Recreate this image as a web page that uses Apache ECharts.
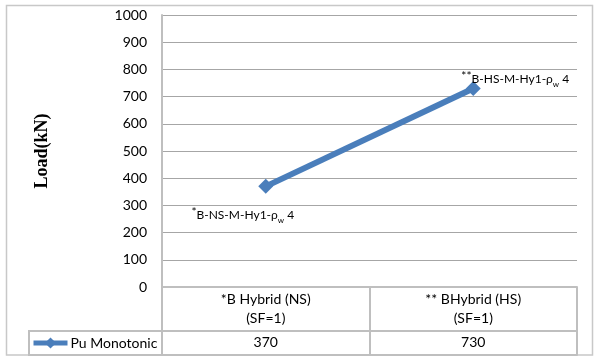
<!DOCTYPE html>
<html>
<head>
<meta charset="utf-8">
<script src="https://cdn.jsdelivr.net/npm/echarts@6/dist/echarts.min.js"></script>
<style>html,body{margin:0;padding:0;background:#fff}#c{width:600px;height:362px}</style>
</head>
<body>
<div id="c"></div>
<script>
var categories = ['*B Hybrid (NS)\n(SF=1)', '** BHybrid (HS)\n(SF=1)'];
var puValues = [370, 730];
var seriesName = 'Pu Monotonic';
var yTicks = { min: 0, max: 1000, interval: 100 };
var pointNotes = [
  { star: '*', main: 'B-NS-M-Hy1-ρ', sub: 'w', tail: ' 4' },
  { star: '**', main: 'B-HS-M-Hy1-ρ', sub: 'w', tail: ' 4' }
];

var FONT = 'Lato';
var tableColor = '#bfbfbf';
var blue = '#4a7ebb';
var richStyle = {
  star: { fontSize: 12, fontFamily: FONT, color: '#000', verticalAlign: 'top', lineHeight: 18 },
  m: { fontSize: 12, fontFamily: FONT, color: '#000', lineHeight: 18 },
  sub: { fontSize: 8, fontFamily: FONT, color: '#000', verticalAlign: 'bottom', lineHeight: 18 }
};
function noteText(n) {
  return '{star|' + n.star + '}{m|' + n.main + '}{sub|' + n.sub + '}{m|' + n.tail + '}';
}
var labelOffsets = [[-23, 29], [42, -9]];

var chart = echarts.init(document.getElementById('c'), null, { renderer: 'canvas' });
var seriesData = puValues.map(function (v, i) {
  return {
    value: v,
    label: {
      show: true,
      position: 'inside',
      offset: labelOffsets[i],
      formatter: noteText(pointNotes[i]),
      rich: richStyle
    }
  };
});

chart.setOption({
  animation: false,
  backgroundColor: '#fff',
  grid: { left: 162, right: 23, top: 15, bottom: 75, containLabel: false },
  legend: {
    data: [seriesName],
    left: 31, top: 336, padding: 0,
    itemWidth: 34, itemHeight: 14, itemGap: 5,
    lineStyle: { width: 5 },
    textStyle: { fontFamily: FONT, fontSize: 14, color: '#000', padding: [0, 0, 0, -2] }
  },
  xAxis: [
    {
      type: 'category', data: categories, position: 'bottom', boundaryGap: true,
      axisLine: { show: true, lineStyle: { color: tableColor, width: 2 } },
      axisTick: { show: true, interval: 0, length: 68, lineStyle: { color: tableColor, width: 2 } },
      axisLabel: { interval: 0, margin: 3, fontFamily: FONT, fontSize: 14, color: '#000', lineHeight: 19 }
    },
    {
      type: 'category', data: categories, position: 'bottom', offset: 44, boundaryGap: true,
      axisLine: { show: true, lineStyle: { color: tableColor, width: 2 } },
      axisTick: { show: false },
      axisLabel: { interval: 0, margin: 4, fontFamily: FONT, fontSize: 14, color: '#000',
        formatter: function (v, i) { return String(puValues[i]); } }
    },
    {
      type: 'category', data: categories, position: 'bottom', offset: 68, boundaryGap: true,
      axisLine: { show: true, lineStyle: { color: tableColor, width: 2 } },
      axisTick: { show: false },
      axisLabel: { show: false }
    }
  ],
  yAxis: {
    type: 'value', min: yTicks.min, max: yTicks.max, interval: yTicks.interval,
    name: 'Load(kN)', nameLocation: 'middle', nameGap: 111,
    nameTextStyle: { fontFamily: 'Liberation Serif', fontWeight: 'bold', fontSize: 18, color: '#000' },
    axisLine: { show: true, lineStyle: { color: tableColor, width: 2 } },
    axisTick: { show: false },
    axisLabel: { margin: 15, fontFamily: FONT, fontSize: 14, color: '#000',
      formatter: function (v) { return String(v); } },
    splitLine: { show: true, lineStyle: { color: '#a6a6a6', width: 1 } }
  },
  series: [{
    name: seriesName, type: 'line', xAxisIndex: 0, data: seriesData,
    symbol: 'diamond', symbolSize: 15,
    lineStyle: { color: blue, width: 6 },
    itemStyle: { color: blue },
    z: 5
  }],
  graphic: [
    { type: 'rect', shape: { x: 6.5, y: 5.5, width: 586, height: 349.5 }, style: { fill: null, stroke: '#c8c8c8', lineWidth: 1.5 }, silent: true, z: -1 },
    { type: 'line', shape: { x1: 28, y1: 331, x2: 162, y2: 331 }, style: { stroke: tableColor, lineWidth: 2 }, silent: true },
    { type: 'line', shape: { x1: 28, y1: 355, x2: 162, y2: 355 }, style: { stroke: tableColor, lineWidth: 2 }, silent: true },
    { type: 'line', shape: { x1: 29, y1: 331, x2: 29, y2: 355 }, style: { stroke: tableColor, lineWidth: 2 }, silent: true }
  ]
});
</script>
</body>
</html>
